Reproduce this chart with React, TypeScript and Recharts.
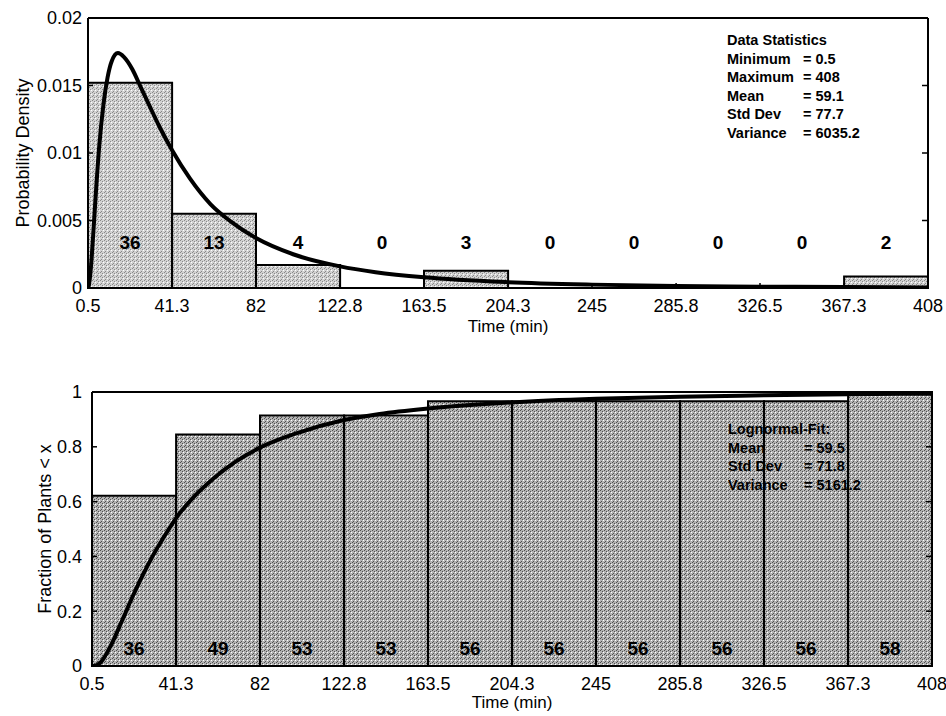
import React from "react";
import {
  ComposedChart,
  XAxis,
  YAxis,
  Line,
  Scatter,
  LabelList,
  ReferenceArea,
} from "recharts";

const FONT = "'Liberation Sans', Arial, Helvetica, sans-serif";

// bin edges (min) shared by both panels
const binEdges = [0.5, 41.3, 82, 122.8, 163.5, 204.3, 245, 285.8, 326.5, 367.3, 408];

// top panel: counts per bin and probability density bar heights
const binCounts = [36, 13, 4, 0, 3, 0, 0, 0, 0, 2];
const binDensity = [0.0152, 0.0055, 0.0017, 0, 0.00127, 0, 0, 0, 0, 0.00085];

// bottom panel: cumulative counts and fraction of plants < x
const cumCounts = [36, 49, 53, 53, 56, 56, 56, 56, 56, 58];
const cumFraction = [0.621, 0.845, 0.914, 0.914, 0.966, 0.966, 0.966, 0.966, 0.966, 1.0];

// fitted curves
const pdfX = [0.5, 1, 2, 3, 4, 6, 8, 10, 12, 15, 18, 22, 26, 30, 35, 41.3, 50, 60, 70, 82, 100, 122.8, 140, 163.5, 204.3, 245, 285.8, 326.5, 367.3, 408];
const pdfY = [0, 0.00027, 0.0017, 0.0039, 0.0063, 0.0106, 0.0136, 0.0156, 0.0168, 0.0174, 0.0171, 0.0162, 0.0149, 0.0136, 0.012, 0.0102, 0.0081, 0.0062, 0.0049, 0.0037, 0.0025, 0.0016, 0.00117, 0.00079, 0.00043, 0.00025, 0.00015, 0.0001, 0.000065, 0.000045];

const cdfX = [0.5, 2, 5, 10, 15, 20, 25, 30, 35, 41.3, 50, 60, 70, 82, 100, 122.8, 140, 163.5, 204.3, 245, 285.8, 326.5, 367.3, 408];
const cdfY = [0, 0.001, 0.016, 0.08, 0.164, 0.25, 0.33, 0.402, 0.466, 0.54, 0.618, 0.688, 0.745, 0.797, 0.85, 0.898, 0.92, 0.94, 0.962, 0.975, 0.983, 0.988, 0.992, 0.994];

const densityTicks = [0, 0.005, 0.01, 0.015, 0.02];
const fractionTicks = [0, 0.2, 0.4, 0.6, 0.8, 1];

const statsLabels = ["Minimum", "Maximum", "Mean", "Std Dev", "Variance"];
const statsValues = ["0.5", "408", "59.1", "77.7", "6035.2"];
const fitLabels = ["Mean", "Std Dev", "Variance"];
const fitValues = ["59.5", "71.8", "5161.2"];

const W = 946;

// frame axes only draw the inward tick marks, no labels
const noLabel = () => <g />;

function Panel({
  height,
  margin,
  yAxisWidth,
  yDomain,
  yTicks,
  yLabel,
  yLabelOffset,
  yTickMargin,
  xLabelOffset,
  bars,
  counts,
  labelY,
  curveX,
  curveY,
  patternId,
  base,
  dot,
}: any) {
  const curve = curveX.map((x: number, i: number) => ({ x, y: curveY[i] }));
  const labels = counts.map((n: number, i: number) => ({
    x: (binEdges[i] + binEdges[i + 1]) / 2,
    y: labelY,
    n,
  }));
  const axisLine = { stroke: "#000", strokeWidth: 2 };
  const tickLine = { stroke: "#000", strokeWidth: 1.5 };
  const tickFont = { fill: "#000", fontSize: 18, fontFamily: FONT };

  return (
    <ComposedChart width={W} height={height} margin={margin}>
      <defs>
        <pattern id={patternId} width="4" height="4" patternUnits="userSpaceOnUse">
          <rect width="4" height="4" fill={base} />
          <rect x="0" y="0" width="1" height="1" fill={dot} />
          <rect x="2" y="1" width="1" height="1" fill={dot} />
          <rect x="1" y="3" width="1" height="1" fill={dot} />
          <rect x="3" y="2" width="1" height="1" fill="#ffffff" />
        </pattern>
      </defs>
      <XAxis
        xAxisId="b"
        dataKey="x"
        type="number"
        domain={[0.5, 408]}
        ticks={binEdges}
        interval={0}
        allowDataOverflow
        height={44}
        tickSize={-5}
        tickMargin={16}
        axisLine={axisLine}
        tickLine={tickLine}
        tick={tickFont}
        label={{
          value: "Time (min)",
          position: "insideBottom",
          offset: xLabelOffset,
          fill: "#000",
          fontSize: 17,
          fontFamily: FONT,
        }}
      />
      <XAxis
        xAxisId="t"
        orientation="top"
        type="number"
        domain={[0.5, 408]}
        ticks={binEdges}
        interval={0}
        allowDataOverflow
        height={1}
        tickSize={-6}
        tick={noLabel}
        axisLine={axisLine}
        tickLine={tickLine}
      />
      <YAxis
        yAxisId="l"
        type="number"
        domain={yDomain}
        ticks={yTicks}
        interval={0}
        allowDataOverflow
        width={yAxisWidth}
        tickSize={-5}
        tickMargin={yTickMargin}
        axisLine={axisLine}
        tickLine={tickLine}
        tick={tickFont}
        label={{
          value: yLabel,
          angle: -90,
          position: "insideLeft",
          offset: yLabelOffset,
          fill: "#000",
          fontSize: 18,
          fontFamily: FONT,
          style: { textAnchor: "middle" },
        }}
      />
      <YAxis
        yAxisId="r"
        orientation="right"
        type="number"
        domain={yDomain}
        ticks={yTicks}
        interval={0}
        allowDataOverflow
        width={1}
        tickSize={-6}
        tick={noLabel}
        axisLine={axisLine}
        tickLine={tickLine}
      />
      {bars.map((v: number, i: number) =>
        v > 0 ? (
          <ReferenceArea
            key={i}
            xAxisId="b"
            yAxisId="l"
            x1={binEdges[i]}
            x2={binEdges[i + 1]}
            y1={0}
            y2={v}
            fill={`url(#${patternId})`}
            fillOpacity={1}
            stroke="#000"
            strokeWidth={2}
            ifOverflow="visible"
          />
        ) : null
      )}
      <Line
        xAxisId="b"
        yAxisId="l"
        data={curve}
        dataKey="y"
        type="monotone"
        stroke="#000"
        strokeWidth={4}
        dot={false}
        isAnimationActive={false}
      />
      <Scatter
        xAxisId="b"
        yAxisId="l"
        data={labels}
        dataKey="y"
        shape={() => <g />}
        isAnimationActive={false}
      >
        <LabelList
          dataKey="n"
          position="center"
          fill="#000"
          fontSize={19}
          fontWeight="bold"
          fontFamily={FONT}
        />
      </Scatter>
    </ComposedChart>
  );
}

function StatBox({ title, labels, values, left, top }: any) {
  const row = { display: "flex", height: 18.5, lineHeight: "18.5px" };
  return (
    <div
      style={{
        position: "absolute",
        left,
        top,
        fontFamily: FONT,
        fontWeight: "bold",
        fontSize: 14.5,
        color: "#000",
        whiteSpace: "nowrap",
      }}
    >
      <div style={row}>{title}</div>
      {labels.map((l: string, i: number) => (
        <div key={l} style={row}>
          <span style={{ width: 76 }}>{l}</span>
          <span>= {values[i]}</span>
        </div>
      ))}
    </div>
  );
}

export default function App() {
  return (
    <div style={{ position: "relative", width: W, height: 716, background: "#fff" }}>
      <style>{`body{margin:0;background:#fff}`}</style>
      <Panel
        height={350}
        margin={{ top: 17, right: 17, bottom: 18, left: 0 }}
        yAxisWidth={88}
        yDomain={[0, 0.02]}
        yTicks={densityTicks}
        yLabel="Probability Density"
        yLabelOffset={23}
        yTickMargin={11}
        xLabelOffset={0}
        bars={binDensity}
        counts={binCounts}
        labelY={0.0034}
        curveX={pdfX}
        curveY={pdfY}
        patternId="stippleA"
        base="#d2d2d2"
        dot="#8a8a8a"
      />
      <Panel
        height={366}
        margin={{ top: 41, right: 13, bottom: 6, left: 0 }}
        yAxisWidth={92}
        yDomain={[0, 1]}
        yTicks={fractionTicks}
        yLabel="Fraction of Plants < x"
        yLabelOffset={45}
        yTickMargin={15}
        xLabelOffset={2}
        bars={cumFraction}
        counts={cumCounts}
        labelY={0.065}
        curveX={cdfX}
        curveY={cdfY}
        patternId="stippleB"
        base="#b4b4b4"
        dot="#505050"
      />
      <StatBox title="Data Statistics" labels={statsLabels} values={statsValues} left={727} top={31} />
      <StatBox title="Lognormal-Fit:" labels={fitLabels} values={fitValues} left={728} top={420} />
    </div>
  );
}
